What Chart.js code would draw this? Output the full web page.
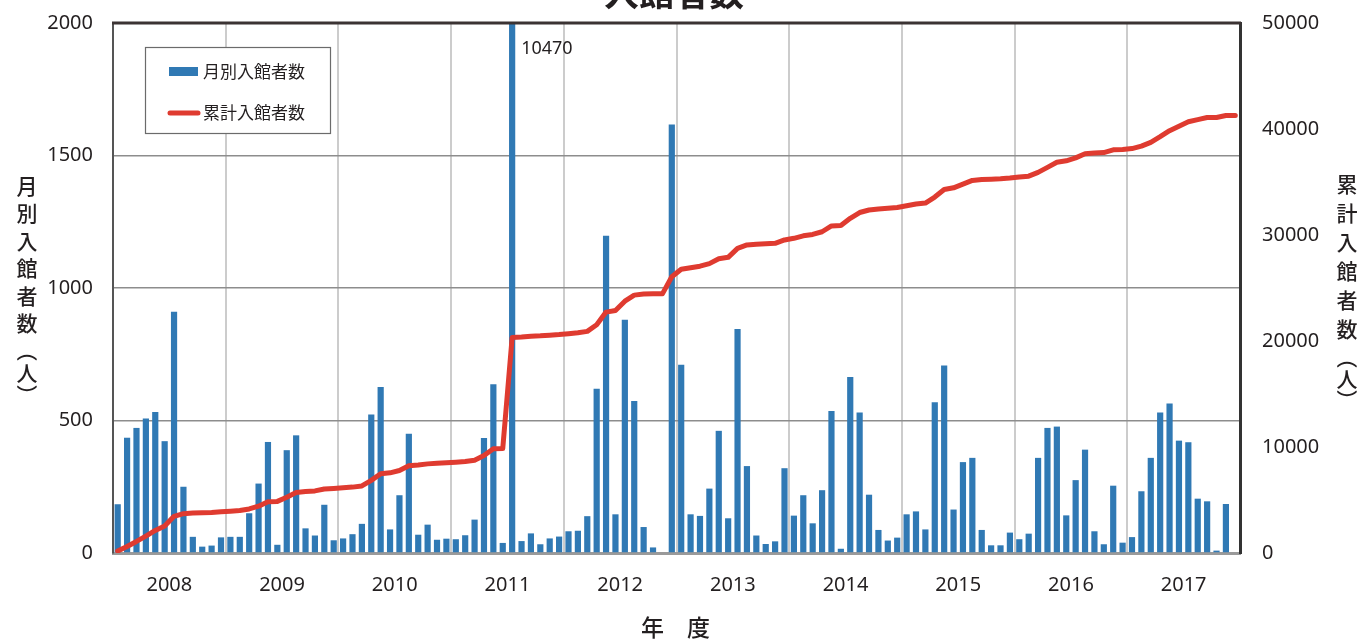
<!DOCTYPE html>
<html lang="ja">
<head>
    <meta charset="UTF-8">
    <title>入館者数</title>
    <script src="https://cdn.jsdelivr.net/npm/chart.js"></script>
    <style>
        html, body { margin: 0; padding: 0; background: #fff; }
        #wrap { width: 1363px; height: 642px; }
    </style>
</head>
<body>
    <div id="wrap"><canvas id="visitorChart"></canvas></div>

    <script>
        // 年度 (4月〜翌3月)
        const years = ['2008', '2009', '2010', '2011', '2012', '2013', '2014', '2015', '2016', '2017'];
        const months = ['4月', '5月', '6月', '7月', '8月', '9月', '10月', '11月', '12月', '1月', '2月', '3月'];

        // 月別入館者数
        const monthlyVisitors = [
            184, 435, 472, 508, 532, 422, 910, 250, 61, 24, 28, 59,
            61, 61, 150, 262, 419, 31, 388, 444, 93, 66, 182, 48,
            55, 71, 110, 523, 626, 89, 218, 450, 69, 107, 50, 54,
            52, 67, 126, 434, 637, 38, 10470, 45, 74, 33, 55, 62,
            82, 84, 139, 620, 1197, 146, 880, 574, 98, 21, 0, 1617,
            710, 146, 140, 243, 461, 131, 845, 328, 66, 34, 44, 320,
            141, 218, 112, 237, 536, 16, 664, 530, 220, 87, 47, 58,
            146, 157, 89, 569, 708, 164, 343, 359, 87, 29, 29, 77,
            52, 73, 359, 472, 477, 142, 275, 390, 82, 33, 254, 39,
            60, 233, 359, 530, 564, 424, 418, 205, 195, 9, 185, 0
        ];

        // 累計入館者数
        const cumulativeVisitors = [
            184, 619, 1091, 1599, 2131, 2553, 3463, 3713, 3774, 3798, 3826, 3885,
            3946, 4007, 4157, 4419, 4838, 4869, 5257, 5701, 5794, 5860, 6042, 6090,
            6145, 6216, 6326, 6849, 7475, 7564, 7782, 8232, 8301, 8408, 8458, 8512,
            8564, 8631, 8757, 9191, 9828, 9866, 20336, 20381, 20455, 20488, 20543, 20605,
            20687, 20771, 20910, 21530, 22727, 22873, 23753, 24327, 24425, 24446, 24446, 26063,
            26773, 26919, 27059, 27302, 27763, 27894, 28739, 29067, 29133, 29167, 29211, 29531,
            29689, 29924, 30053, 30307, 30860, 30893, 31574, 32121, 32358, 32462, 32526, 32601,
            32763, 32920, 33009, 33578, 34286, 34450, 34793, 35152, 35239, 35268, 35297, 35374,
            35476, 35549, 35908, 36380, 36857, 36999, 37274, 37664, 37746, 37779, 38033, 38072,
            38152, 38385, 38744, 39274, 39838, 40262, 40680, 40885, 41080, 41089, 41274, 41274
        ];

        const leftTicks = [0, 500, 1000, 1500, 2000];
        const rightTicks = [0, 10000, 20000, 30000, 40000, 50000];

        const chartTitle = '入館者数';
        const leftTitle = '月別入館者数（人）';
        const rightTitle = '累計入館者数（人）';
        const xTitle = '年　度';

        // ラベルとx軸の目盛り位置
        const labels = [];
        years.forEach(y => months.forEach(m => labels.push(y + '年度' + m)));
        const yearTickValues = [];
        years.forEach((y, i) => { yearTickValues.push(i * 12, i * 12 + 6); });
        yearTickValues.push(years.length * 12);

        const numFont = '"Noto Sans", "Open Sans", sans-serif';
        const jpFont = '"Noto Sans CJK JP", "Noto Sans", sans-serif';
        const textColor = '#231f20';

        // 縦書きの軸タイトルなど
        const decorPlugin = {
            id: 'decor',
            afterDatasetsDraw(chart) {
                const ctx = chart.ctx;
                const a = chart.chartArea;
                ctx.save();

                // 枠
                ctx.strokeStyle = '#3b3333';
                ctx.lineWidth = 3;
                ctx.beginPath();
                ctx.moveTo(a.left - 1, a.top);
                ctx.lineTo(a.right + 1, a.top);
                ctx.stroke();

                // はみ出した棒の値
                const meta = chart.getDatasetMeta(0);
                const yMax = chart.scales.y.max;
                ctx.fillStyle = textColor;
                ctx.font = '18px ' + numFont;
                ctx.textAlign = 'left';
                ctx.textBaseline = 'middle';
                monthlyVisitors.forEach((v, i) => {
                    if (v > yMax) {
                        ctx.fillText(String(v), meta.data[i].x + 9, a.top + 26);
                    }
                });

                // 凡例
                const lx = 145, ly = 47;
                ctx.fillStyle = '#fff';
                ctx.fillRect(lx, ly, 185, 86);
                ctx.strokeStyle = '#6b6b6b';
                ctx.lineWidth = 1.2;
                ctx.strokeRect(lx + 0.5, ly + 0.5, 185, 86);
                const ds = chart.data.datasets;
                ctx.fillStyle = ds[0].backgroundColor;
                ctx.fillRect(lx + 24, ly + 20, 29, 9);
                ctx.strokeStyle = ds[1].borderColor;
                ctx.lineWidth = 5;
                ctx.lineCap = 'round';
                ctx.beginPath();
                ctx.moveTo(lx + 25, ly + 66);
                ctx.lineTo(lx + 53, ly + 66);
                ctx.stroke();
                ctx.fillStyle = textColor;
                ctx.font = '17px ' + jpFont;
                ctx.fillText(ds[0].label, lx + 58, ly + 25);
                ctx.fillText(ds[1].label, lx + 58, ly + 66);

                ctx.restore();
            },
            afterDraw(chart) {
                const ctx = chart.ctx;
                const a = chart.chartArea;
                ctx.save();
                ctx.fillStyle = textColor;
                ctx.textAlign = 'center';

                // タイトル (上端で切れている)
                ctx.font = 'bold 35px ' + jpFont;
                ctx.textBaseline = 'bottom';
                ctx.fillText(chartTitle, 674, 10);

                // x軸タイトル
                ctx.textBaseline = 'middle';
                ctx.font = '500 23px ' + jpFont;
                ctx.fillText(xTitle, (a.left + a.right) / 2 - 1, 627);

                // 縦書き
                const vertical = (text, x, y0, step, bstep) => {
                    let y = y0;
                    [...text].forEach(ch => {
                        const isBracket = ch === '（' || ch === '）';
                        if (isBracket) {
                            ctx.save();
                            ctx.translate(x, y);
                            ctx.rotate(Math.PI / 2);
                            ctx.fillText(ch, 0, 0);
                            ctx.restore();
                        } else {
                            ctx.fillText(ch, x, y);
                        }
                        y += isBracket || ch === '人' ? bstep : step;
                    });
                };
                ctx.font = '500 21px ' + jpFont;
                vertical(leftTitle, 27, 186, 27.5, 22);
                vertical(rightTitle, 1347, 184, 29, 21);

                ctx.restore();
            }
        };

        const ctx = document.getElementById('visitorChart').getContext('2d');
        new Chart(ctx, {
            type: 'bar',
            data: {
                labels: labels,
                datasets: [
                    {
                        type: 'bar',
                        label: '月別入館者数',
                        data: monthlyVisitors,
                        backgroundColor: '#3079b4',
                        categoryPercentage: 1,
                        barPercentage: 0.66,
                        yAxisID: 'y',
                        order: 1
                    },
                    {
                        type: 'line',
                        label: '累計入館者数',
                        data: cumulativeVisitors,
                        borderColor: '#df3b30',
                        borderWidth: 5,
                        pointRadius: 0,
                        tension: 0,
                        borderJoinStyle: 'round',
                        borderCapStyle: 'round',
                        yAxisID: 'y2',
                        order: 0
                    }
                ]
            },
            options: {
                responsive: true,
                maintainAspectRatio: false,
                animation: false,
                layout: { padding: { top: 23, left: 0, right: 0, bottom: 0 } },
                plugins: {
                    legend: { display: false },
                    tooltip: { enabled: false },
                    title: { display: false }
                },
                scales: {
                    x: {
                        type: 'category',
                        display: false,
                        offset: true
                    },
                    yr: {
                        type: 'linear',
                        position: 'bottom',
                        offset: false,
                        min: 0,
                        max: years.length * 12,
                        afterBuildTicks: s => { s.ticks = yearTickValues.map(v => ({ value: v })); },
                        afterFit: s => { s.height = 89; },
                        grid: {
                            offset: false,
                            color: c => (c.tick && c.tick.value % 12 === 0) ? '#cccccc' : 'rgba(0,0,0,0)',
                            lineWidth: 2,
                            drawTicks: false
                        },
                        border: { display: true, color: '#9a9a9a', width: 3 },
                        ticks: {
                            autoSkip: false,
                            maxRotation: 0,
                            padding: 20,
                            color: textColor,
                            font: { family: numFont, size: 20 },
                            callback: v => (v % 12 === 6) ? years[(v - 6) / 12] : ''
                        }
                    },
                    y: {
                        position: 'left',
                        min: leftTicks[0],
                        max: leftTicks[leftTicks.length - 1],
                        afterBuildTicks: s => { s.ticks = leftTicks.map(v => ({ value: v })); },
                        afterFit: s => { s.width = 113; s.paddingTop = 10; s.paddingBottom = 0; },
                        grid: { color: '#8d8d8d', lineWidth: 1.5, drawTicks: false },
                        border: { color: '#555', width: 2 },
                        ticks: {
                            padding: 20,
                            color: textColor,
                            font: { family: numFont, size: 20 },
                            callback: v => String(v)
                        }
                    },
                    y2: {
                        position: 'right',
                        min: rightTicks[0],
                        max: rightTicks[rightTicks.length - 1],
                        afterBuildTicks: s => { s.ticks = rightTicks.map(v => ({ value: v })); },
                        afterFit: s => { s.width = 123; s.paddingTop = 10; s.paddingBottom = 0; },
                        grid: { drawOnChartArea: false, drawTicks: false },
                        border: { color: '#333', width: 3 },
                        ticks: {
                            padding: 22,
                            color: textColor,
                            font: { family: numFont, size: 20 },
                            callback: v => String(v)
                        }
                    }
                }
            },
            plugins: [decorPlugin]
        });
    </script>
</body>
</html>
